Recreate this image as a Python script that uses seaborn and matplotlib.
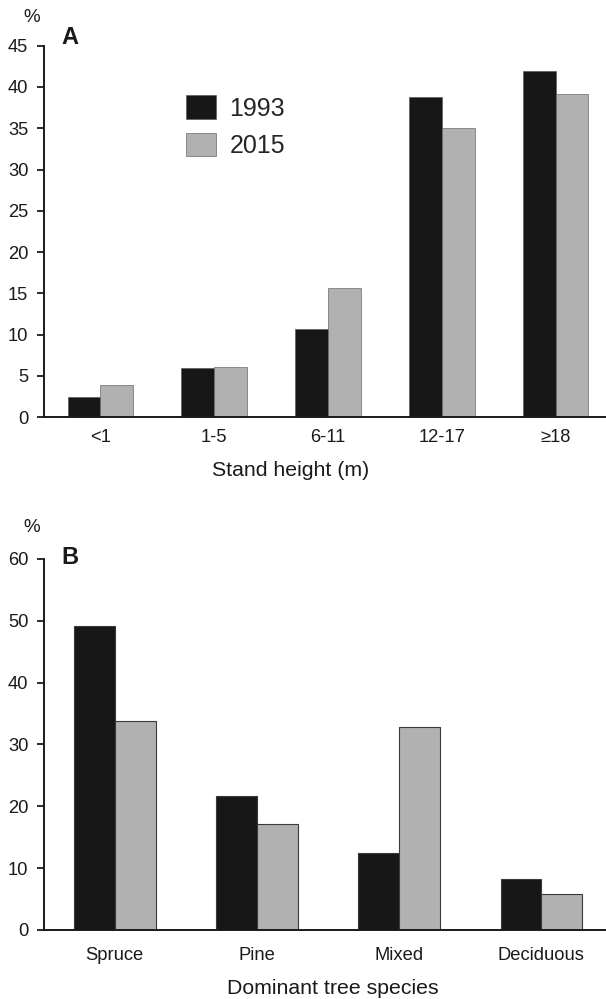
import pandas as pd
import matplotlib
matplotlib.use("Agg")
import matplotlib.pyplot as plt
import seaborn as sns

# Panel A: stand height classes
height_classes = ['<1', '1-5', '6-11', '12-17', '≥18']
height_1993 = [2.4, 6.0, 10.7, 38.8, 41.9]
height_2015 = [3.9, 6.1, 15.6, 35.0, 39.1]

# Panel B: dominant tree species
species = ['Spruce', 'Pine', 'Mixed', 'Deciduous']
species_1993 = [49.2, 21.6, 12.5, 8.2]
species_2015 = [33.8, 17.2, 32.9, 5.8]

years = ['1993', '2015']
colors = ['#171717', '#b1b1b1']

sns.set_style('white')
plt.rcParams['font.family'] = ['Liberation Sans', 'DejaVu Sans']


def long_table(cats, a, b):
    return pd.DataFrame({
        'cat': cats + cats,
        'value': a + b,
        'year': [years[0]] * len(cats) + [years[1]] * len(cats),
    })


def style_axis(ax, n, ymax, ystep, label_pad):
    ax.set_ylim(0, ymax)
    ax.set_yticks(range(0, ymax + 1, ystep))
    ax.set_xticks(range(n))
    ax.set_xticks([i - 0.5 for i in range(n)], minor=True)
    ax.tick_params(axis='x', which='major', length=0, pad=label_pad, labelsize=13.2, colors='#1a1a1a')
    ax.tick_params(axis='x', which='minor', length=5, width=1.3, direction='out', color='#1a1a1a')
    ax.tick_params(axis='y', length=5, width=1.3, direction='out', pad=6, labelsize=13.2,
                   left=True, colors='#1a1a1a')
    for s in ['top', 'right']:
        ax.spines[s].set_visible(False)
    for s in ['left', 'bottom']:
        ax.spines[s].set_color('#1a1a1a')
        ax.spines[s].set_linewidth(1.4)
    ax.set_xlabel('')
    ax.set_ylabel('')


fig = plt.figure(figsize=(6.06, 9.99), dpi=100)
ax_a = fig.add_axes([0.0718, 0.5823, 0.9282, 0.372])
ax_b = fig.add_axes([0.0718, 0.0691, 0.9282, 0.3714])

df_a = long_table(height_classes, height_1993, height_2015)
sns.barplot(data=df_a, x='cat', y='value', hue='year', palette=colors, width=0.575,
            edgecolor='#505050', linewidth=0.4, ax=ax_a)
style_axis(ax_a, 5, 45, 5, 8.5)
ax_a.set_xlim(-0.5, 4.443)
ax_a.legend(loc='upper left', bbox_to_anchor=(0.253, 0.866), frameon=False, fontsize=18,
            handlelength=1.2, handleheight=1.05, handletextpad=0.55, labelspacing=0.5,
            borderpad=0, borderaxespad=0)

df_b = long_table(species, species_1993, species_2015)
sns.barplot(data=df_b, x='cat', y='value', hue='year', palette=colors, width=0.575,
            edgecolor='#3a3a3a', linewidth=0.8, legend=False, ax=ax_b)
style_axis(ax_b, 4, 60, 10, 12.5)
ax_b.set_xlim(-0.5, 3.454)

# axis titles, unit marks and panel letters
fig.text(291 / 606, 1 - 470 / 999, 'Stand height (m)', ha='center', va='center', fontsize=15.3, color='#1a1a1a')
fig.text(333 / 606, 1 - 988 / 999, 'Dominant tree species', ha='center', va='center', fontsize=15.3, color='#1a1a1a')
fig.text(32 / 606, 1 - 18 / 999, '%', ha='center', va='center', fontsize=13.5, color='#1a1a1a')
fig.text(32 / 606, 1 - 528 / 999, '%', ha='center', va='center', fontsize=13.5, color='#1a1a1a')
fig.text(70 / 606, 1 - 38 / 999, 'A', ha='center', va='center', fontsize=17, fontweight='bold', color='#1a1a1a')
fig.text(70 / 606, 1 - 557 / 999, 'B', ha='center', va='center', fontsize=17, fontweight='bold', color='#1a1a1a')

fig.savefig('out.png', dpi=100)
